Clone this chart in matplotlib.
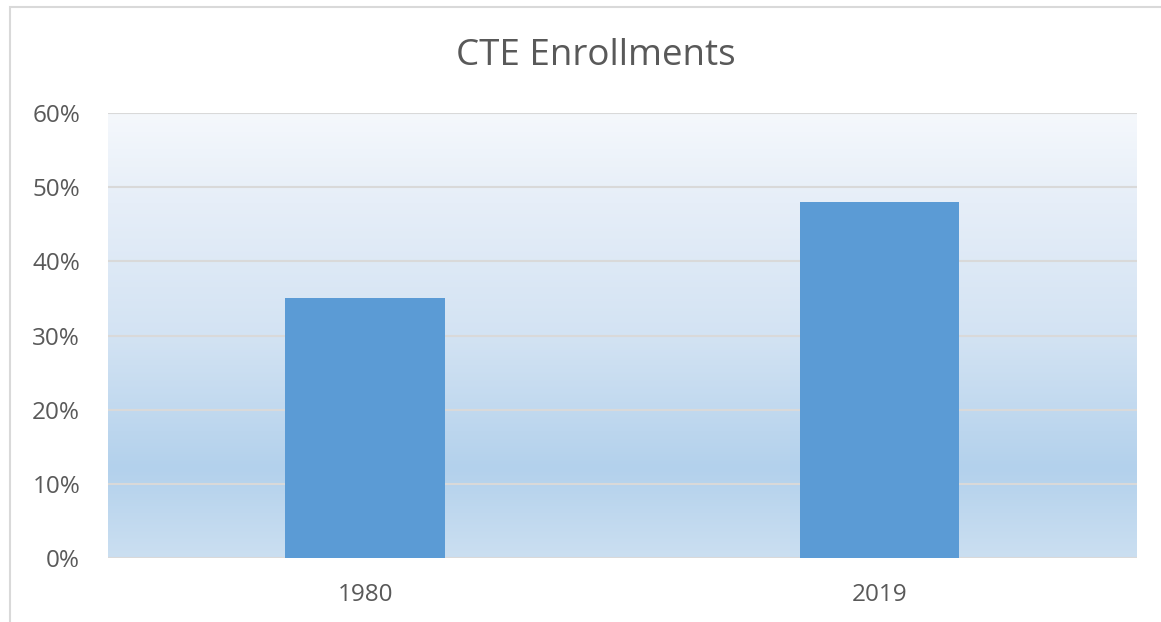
import numpy as np
import matplotlib
matplotlib.use('Agg')
import matplotlib.pyplot as plt
from matplotlib.colors import LinearSegmentedColormap
from matplotlib.patches import Rectangle

# chart data
years = ['1980', '2019']
enroll_pct = [35, 48]

plt.rcParams['font.family'] = ['Open Sans', 'DejaVu Sans']

fig = plt.figure(figsize=(11.61, 6.22), dpi=100)
ax = fig.add_axes([0.0930, 0.1029, 0.8863, 0.7154])

# light gray chart border (left + top visible in the crop)
fig.patches.append(Rectangle((10 / 1161, -0.05), 1.2, 1 - 7 / 622 + 0.05,
                             transform=fig.transFigure, fill=False,
                             edgecolor='#d9d9d9', linewidth=1.5, zorder=0))

# gradient background of the plot area
grad = LinearSegmentedColormap.from_list('bg', [
    (0.0, '#cbdff1'),
    (0.2, '#b3d1ec'),
    (0.5, '#d3e3f3'),
    (0.8, '#e6eef8'),
    (1.0, '#f5f8fc'),
])
ax.imshow(np.linspace(0, 1, 256).reshape(-1, 1), cmap=grad, aspect='auto',
          extent=[-0.5, 1.5, 0, 60], origin='lower', zorder=0)

x = np.arange(len(years))
ax.bar(x, enroll_pct, width=0.31, color='#5b9bd5', zorder=3)

ax.set_xlim(-0.5, 1.5)
ax.set_ylim(0, 60)
ax.set_yticks(range(0, 61, 10))
ax.set_yticklabels([f'{v}%' for v in range(0, 61, 10)])
ax.set_xticks(x)
ax.set_xticklabels(years)
ax.grid(axis='y', color='#d9d9d9', linewidth=1.5, zorder=1)
ax.set_axisbelow(False)
for s in ax.spines.values():
    s.set_visible(False)
ax.tick_params(axis='both', length=0, labelsize=17.5, colors='#595959')
ax.tick_params(axis='y', pad=20)
ax.tick_params(axis='x', pad=18)

fig.text(596 / 1161, 1 - 56 / 622, 'CTE Enrollments', ha='center', va='center',
         fontsize=26.5, color='#595959')

fig.savefig('out.png', dpi=100)
